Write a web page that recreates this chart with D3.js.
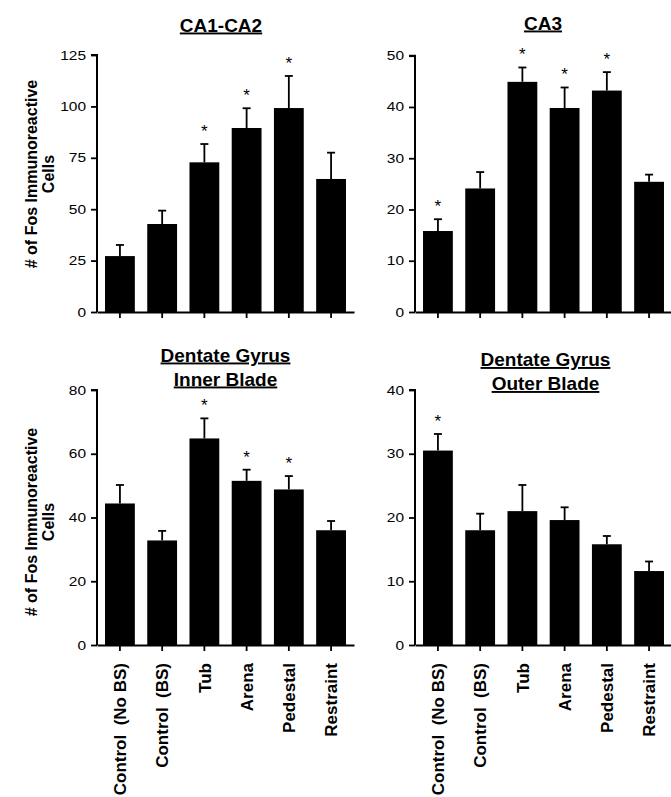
<!DOCTYPE html>
<html>
<head>
<meta charset="utf-8">
<script src="https://cdn.jsdelivr.net/npm/d3@7"></script>
<style>
  html, body { margin: 0; padding: 0; background: #fff; }
  svg { display: block; font-family: "Liberation Sans", Arial, Helvetica, sans-serif; }
</style>
</head>
<body>
<svg id="chart" width="671" height="797"></svg>
<script>
// ---- data ----
const categories = ["Control  (No BS)", "Control  (BS)", "Tub", "Arena", "Pedestal", "Restraint"];

const ca1Means = [27.2, 42.8, 72.8, 89.5, 99.2, 64.7];
const ca1Sem   = [5.4, 6.5, 8.9, 9.6, 15.6, 12.8];
const ca1Sig   = [false, false, true, true, true, false];
const ca1Ticks = [0, 25, 50, 75, 100, 125];

const ca3Means = [15.8, 24.1, 44.9, 39.8, 43.2, 25.4];
const ca3Sem   = [2.3, 3.2, 2.8, 4.0, 3.6, 1.4];
const ca3Sig   = [true, false, true, true, true, false];
const ca3Ticks = [0, 10, 20, 30, 40, 50];

const innerMeans = [44.4, 32.8, 64.8, 51.5, 48.8, 36.0];
const innerSem   = [5.8, 3.0, 6.3, 3.5, 4.2, 2.9];
const innerSig   = [false, false, true, true, true, false];
const innerTicks = [0, 20, 40, 60, 80];

const outerMeans = [30.5, 18.0, 21.0, 19.6, 15.8, 11.6];
const outerSem   = [2.6, 2.6, 4.1, 2.0, 1.3, 1.5];
const outerSig   = [true, false, false, false, false, false];
const outerTicks = [0, 10, 20, 30, 40];

const yLabelLines = ["# of Fos Immunoreactive", "Cells"];

// ---- layout ----
const svg = d3.select("#chart");
const FONT = '"Liberation Sans", Arial, Helvetica, sans-serif';

const panels = [
  { title: ["CA1-CA2"], titleX: 221, titleY: 31.5, means: ca1Means, sem: ca1Sem, sig: ca1Sig, ticks: ca1Ticks,
    x0: 97, x1: 354, yTop: 55, yBot: 312, yLabel: true, yLabelCenter: 174, xLabels: false },
  { title: ["CA3"], titleX: 543, titleY: 29.5, means: ca3Means, sem: ca3Sem, sig: ca3Sig, ticks: ca3Ticks,
    x0: 415, x1: 672, yTop: 55.7, yBot: 312, yLabel: false, xLabels: false },
  { title: ["Dentate Gyrus", "Inner Blade"], titleX: 225.5, titleY: 361.5, means: innerMeans, sem: innerSem, sig: innerSig, ticks: innerTicks,
    x0: 97, x1: 354, yTop: 390, yBot: 645, yLabel: true, yLabelCenter: 522, xLabels: true },
  { title: ["Dentate Gyrus", "Outer Blade"], titleX: 545.5, titleY: 366, means: outerMeans, sem: outerSem, sig: outerSig, ticks: outerTicks,
    x0: 415, x1: 672, yTop: 390, yBot: 645, yLabel: false, xLabels: true }
];

panels.forEach(p => {
  const g = svg.append("g");
  const x = d3.scaleBand().domain(categories).range([p.x0, p.x1]).paddingInner(0.294).paddingOuter(0.19);
  const y = d3.scaleLinear().domain([p.ticks[0], p.ticks[p.ticks.length - 1]]).range([p.yBot, p.yTop]);

  // bars
  g.selectAll("rect.bar").data(categories).join("rect")
    .attr("class", "bar")
    .attr("x", d => x(d))
    .attr("width", x.bandwidth())
    .attr("y", (d, i) => y(p.means[i]))
    .attr("height", (d, i) => y(0) - y(p.means[i]))
    .attr("fill", "#000");

  // error bars (upper only)
  const cx = d => x(d) + x.bandwidth() / 2;
  g.selectAll("line.err").data(categories).join("line")
    .attr("x1", cx).attr("x2", cx)
    .attr("y1", (d, i) => y(p.means[i]))
    .attr("y2", (d, i) => y(p.means[i] + p.sem[i]))
    .attr("stroke", "#000").attr("stroke-width", 1.8);
  g.selectAll("line.cap").data(categories).join("line")
    .attr("x1", d => cx(d) - 4).attr("x2", d => cx(d) + 4)
    .attr("y1", (d, i) => y(p.means[i] + p.sem[i]))
    .attr("y2", (d, i) => y(p.means[i] + p.sem[i]))
    .attr("stroke", "#000").attr("stroke-width", 1.8);

  // asterisks
  g.selectAll("text.star").data(categories.filter((d, i) => p.sig[i])).join("text")
    .attr("x", d => cx(d))
    .attr("y", d => { const i = categories.indexOf(d); return y(p.means[i] + p.sem[i]) - 7; })
    .attr("text-anchor", "middle")
    .attr("font-size", 17)
    .attr("font-family", FONT)
    .text("*");

  // y axis
  const yAxis = d3.axisLeft(y).tickValues(p.ticks).tickSize(6).tickPadding(5).tickFormat(d3.format("d"));
  const ya = g.append("g").attr("transform", `translate(${p.x0},0)`).call(yAxis);
  ya.select(".domain").attr("stroke-width", 2).attr("d", `M-6,${y(p.ticks[p.ticks.length-1])}H0V${y(0)}`);
  ya.selectAll(".tick line").attr("stroke-width", 1.8);
  ya.selectAll(".tick text")
    .attr("font-size", 12.5).attr("font-family", FONT).attr("fill", "#000")
    .attr("textLength", d => String(d).length * 8.6)
    .attr("lengthAdjust", "spacingAndGlyphs");

  // x axis
  const xAxis = d3.axisBottom(x).tickSize(6).tickSizeOuter(0).tickFormat("");
  const xa = g.append("g").attr("transform", `translate(0,${p.yBot})`).call(xAxis);
  xa.select(".domain").attr("stroke-width", 2);
  xa.selectAll(".tick line").attr("stroke-width", 1.8);
  xa.selectAll(".tick text").remove();

  if (p.xLabels) {
    g.selectAll("text.xl").data(categories).join("text")
      .attr("class", "xl")
      .attr("transform", d => `translate(${cx(d)},${p.yBot + 18}) rotate(-90)`)
      .attr("dy", "0.36em")
      .attr("text-anchor", "end")
      .attr("font-size", 17)
      .attr("font-weight", "bold")
      .attr("font-family", FONT)
      .style("white-space", "pre")
      .text(d => d);
  }

  // title
  p.title.forEach((t, k) => {
    g.append("text")
      .attr("x", p.titleX)
      .attr("y", p.titleY + k * 24)
      .attr("text-anchor", "middle")
      .attr("font-size", 19)
      .attr("font-weight", "bold")
      .attr("font-family", FONT)
      .style("text-decoration", "underline")
      .text(t);
  });

  // y label
  if (p.yLabel) {
    yLabelLines.forEach((t, k) => {
      g.append("text")
        .attr("transform", `translate(${36.5 + k * 17},${p.yLabelCenter}) rotate(-90)`)
        .attr("text-anchor", "middle")
        .attr("font-size", 16)
        .attr("font-weight", "bold")
        .attr("font-family", FONT)
        .text(t);
    });
  }
});
</script>
</body>
</html>
